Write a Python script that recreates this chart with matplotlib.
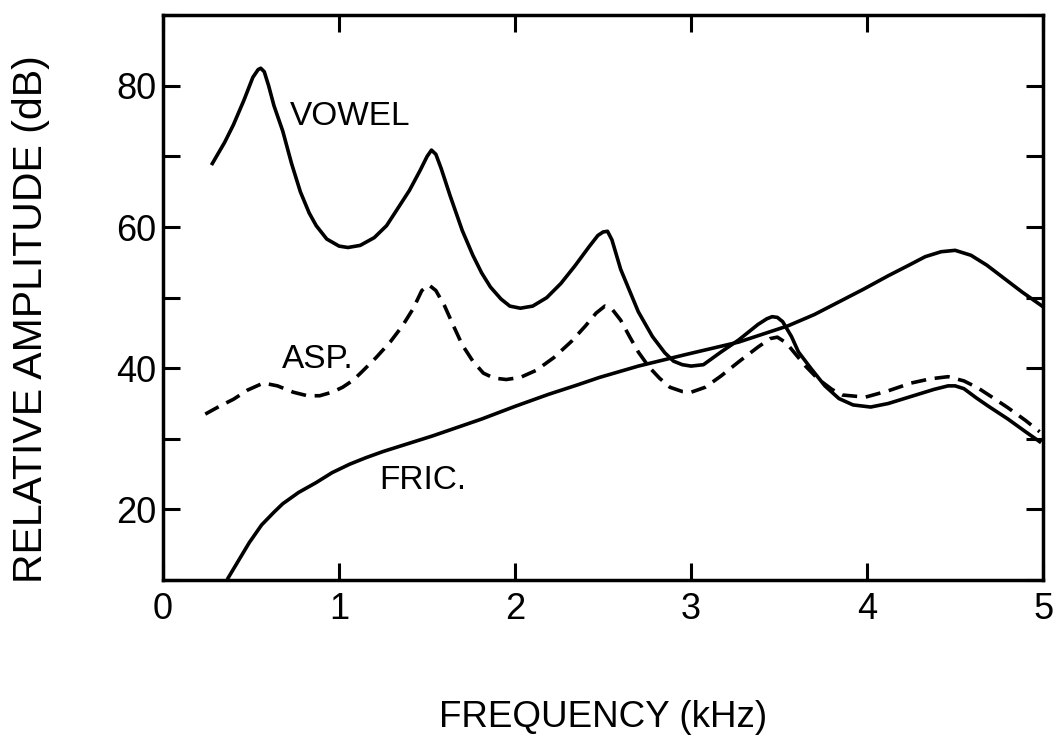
import matplotlib.pyplot as plt
from matplotlib.ticker import MultipleLocator

# values (kHz, dB)
vowel_f = [0.28, 0.35, 0.40, 0.46, 0.51, 0.54, 0.555, 0.575, 0.60, 0.63, 0.68, 0.73,
           0.78, 0.83, 0.87, 0.93, 1.00, 1.05, 1.12, 1.20, 1.27, 1.33, 1.40, 1.46,
           1.50, 1.525, 1.55, 1.58, 1.63, 1.70, 1.76, 1.81, 1.86, 1.92, 1.97, 2.03,
           2.10, 2.18, 2.26, 2.34, 2.42, 2.47, 2.50, 2.525, 2.55, 2.60, 2.65, 2.70,
           2.78, 2.85, 2.90, 2.95, 3.00, 3.07, 3.17, 3.27, 3.38, 3.43, 3.46, 3.49,
           3.52, 3.57, 3.61, 3.68, 3.76, 3.84, 3.92, 4.02, 4.12, 4.25, 4.38, 4.46,
           4.50, 4.55, 4.62, 4.69, 4.80, 4.90, 4.98]
vowel_db = [69.0, 72.0, 74.5, 78.0, 81.2, 82.3, 82.5, 82.0, 80.0, 77.2, 73.6, 69.0,
            65.0, 62.0, 60.2, 58.3, 57.3, 57.1, 57.4, 58.5, 60.2, 62.5, 65.2, 68.0,
            70.0, 70.9, 70.3, 68.3, 64.5, 59.5, 56.0, 53.5, 51.5, 49.8, 48.8, 48.5,
            48.8, 50.0, 52.0, 54.5, 57.2, 58.8, 59.3, 59.4, 58.2, 54.0, 51.0, 48.0,
            44.5, 42.2, 41.0, 40.5, 40.3, 40.5, 42.3, 44.0, 46.2, 47.0, 47.3, 47.2,
            46.6, 44.5, 42.3, 40.0, 37.5, 35.7, 34.8, 34.5, 35.0, 36.0, 37.0, 37.5,
            37.5, 37.1, 35.8, 34.6, 32.8, 31.0, 29.6]

asp_f = [0.24, 0.32, 0.40, 0.48, 0.57, 0.65, 0.74, 0.82, 0.89, 0.96, 1.02, 1.08,
         1.13, 1.21, 1.29, 1.36, 1.42, 1.47, 1.51, 1.55, 1.60, 1.65, 1.70, 1.76,
         1.82, 1.88, 1.95, 2.03, 2.12, 2.22, 2.32, 2.40, 2.46, 2.51, 2.55, 2.60,
         2.65, 2.70, 2.76, 2.82, 2.88, 2.95, 3.00, 3.08, 3.17, 3.27, 3.38, 3.45,
         3.49, 3.54, 3.60, 3.65, 3.72, 3.80, 3.86, 3.99, 4.12, 4.25, 4.36, 4.46,
         4.55, 4.63, 4.71, 4.80, 4.90, 4.98]
asp_db = [33.5, 34.6, 35.6, 36.9, 37.9, 37.5, 36.6, 36.1, 36.1, 36.6, 37.3, 38.3,
          39.5, 41.5, 43.7, 46.0, 48.4, 51.0, 51.8, 51.0, 48.8, 46.0, 43.3, 41.0,
          39.3, 38.6, 38.4, 38.7, 39.7, 41.5, 43.8, 46.0, 47.8, 48.8, 48.4, 46.8,
          44.5, 42.3, 40.2, 38.6, 37.3, 36.7, 36.6, 37.3, 38.9, 40.9, 43.0, 44.2,
          44.4, 43.6, 41.8, 40.3, 38.5, 37.0, 36.2, 35.9, 36.8, 37.9, 38.5, 38.8,
          38.2, 37.2, 35.9, 34.4, 32.6, 31.0]

fric_f = [0.37, 0.43, 0.49, 0.56, 0.63, 0.68, 0.77, 0.87, 0.96, 1.06, 1.15, 1.25,
          1.39, 1.53, 1.67, 1.81, 2.00, 2.19, 2.35, 2.48, 2.70, 2.98, 3.27, 3.55,
          3.70, 3.84, 3.98, 4.12, 4.23, 4.33, 4.42, 4.50, 4.59, 4.68, 4.78, 4.88,
          5.00]
fric_db = [10.3, 12.8, 15.3, 17.8, 19.6, 20.8, 22.4, 23.8, 25.2, 26.4, 27.3, 28.2,
           29.3, 30.4, 31.6, 32.8, 34.6, 36.3, 37.6, 38.7, 40.3, 42.0, 43.7, 46.0,
           47.6, 49.4, 51.2, 53.1, 54.5, 55.8, 56.5, 56.7, 56.0, 54.6, 52.7, 50.8,
           48.7]

x_ticks = [0, 1, 2, 3, 4, 5]
y_ticks = [20, 40, 60, 80]

plt.rcParams['font.family'] = ['Liberation Sans', 'DejaVu Sans']

fig = plt.figure(figsize=(10.54, 7.45), dpi=100)
ax = fig.add_axes([0.1547, 0.2215, 0.835, 0.758])

lw = 2.6
ax.plot(vowel_f, vowel_db, color='black', lw=lw, solid_joinstyle='round')
ax.plot(asp_f, asp_db, color='black', lw=lw, ls=(0, (4.2, 2.4)))
ax.plot(fric_f, fric_db, color='black', lw=lw, solid_joinstyle='round')

ax.text(0.72, 75.7, 'VOWEL', fontsize=24, va='center', ha='left')
ax.text(0.675, 41.3, 'ASP.', fontsize=24, va='center', ha='left')
ax.text(1.23, 24.1, 'FRIC.', fontsize=24, va='center', ha='left')

ax.set_xlim(0, 5)
ax.set_ylim(10, 90)
ax.set_xticks(x_ticks)
ax.set_yticks(y_ticks)
ax.yaxis.set_minor_locator(MultipleLocator(10))
ax.tick_params(which='both', direction='in', top=True, right=True,
               length=12, width=2.2, labelsize=26)
ax.tick_params(axis='x', pad=9)
ax.tick_params(axis='y', pad=5)
for s in ax.spines.values():
    s.set_linewidth(2.5)

ax.set_xlabel('FREQUENCY (kHz)', fontsize=26.5)
ax.set_ylabel('RELATIVE AMPLITUDE (dB)', fontsize=29.5)
ax.xaxis.set_label_coords(0.5, -0.213)
ax.yaxis.set_label_coords(-0.129, 0.462)

fig.savefig('out.png', dpi=100)
